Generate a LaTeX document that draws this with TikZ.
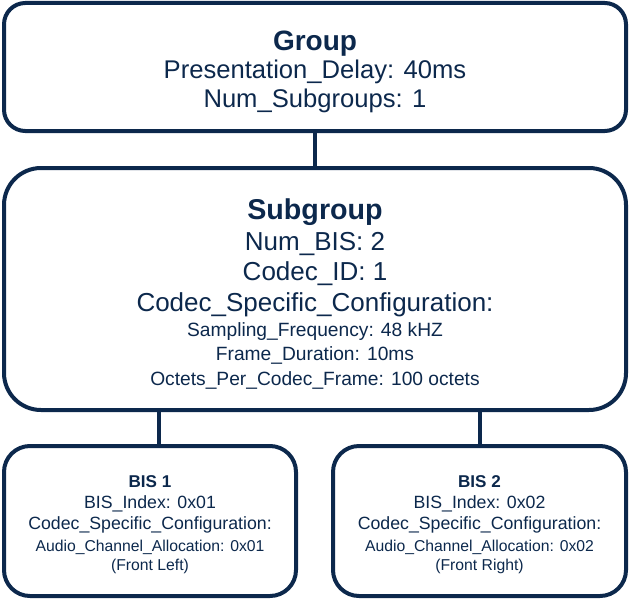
\documentclass[tikz,border=0pt]{standalone}
\usepackage{fontspec}
\setmainfont{Liberation Sans}
\usetikzlibrary{calc}
\definecolor{navy}{HTML}{0C284C}
\newcommand{\fs}[2]{\fontsize{#1}{#2}\selectfont}
\newcommand{\lift}[1]{\rule{0pt}{#1}}

\begin{document}
\begin{tikzpicture}[x=0.75pt,y=-0.75pt,
  box/.style={draw=navy,line width=3pt,text=navy,align=center,inner sep=0pt},
  link/.style={draw=navy,line width=3pt}]
\useasboundingbox (0,0) rectangle (630,599);
% group
\node[box,rounded corners=16pt,minimum width=466.5pt,minimum height=96pt,
  font=\fs{19.2}{21.75}] (group) at (315,67)
  {\lift{21.3pt}{\fs{21}{25}\bfseries Group}\\[-0.75pt]
   Presentation\_Delay: 40ms\\
   Num\_Subgroups: 1};
% subgroup
\node[box,rounded corners=27.75pt,minimum width=466.5pt,minimum height=181.5pt,
  font=\fs{19.5}{18.5}] (subgroup) at (315,289)
  {\lift{23.2pt}{\fs{21.5}{25}\bfseries Subgroup}\\[4.75pt]
   Num\_BIS: 2\\[4pt]
   Codec\_ID: 1\\[4.75pt]
   Codec\_Specific\_Configuration:\\
   {\fs{14.4}{17}Sampling\_Frequency: 48 kHZ}\\
   {\fs{14.4}{17}Frame\_Duration: 10ms}\\
   {\fs{14.4}{17}Octets\_Per\_Codec\_Frame: 100 octets}};
% bis
\node[box,rounded corners=19.5pt,minimum width=219pt,minimum height=112.5pt,
  font=\fs{13.3}{15.75}] (bis1) at (150,521)
  {\lift{14.5pt}{\fs{12.8}{15}\bfseries BIS 1}\\
   BIS\_Index: 0x01\\
   Codec\_Specific\_Configuration:\\[0.75pt]
   {\fs{11.8}{14}Audio\_Channel\_Allocation: 0x01}\\[-1.5pt]
   {\fs{11.8}{14}(Front Left)}};
\node[box,rounded corners=19.5pt,minimum width=219.75pt,minimum height=112.5pt,
  font=\fs{13.3}{15.75}] (bis2) at (479.5,521)
  {\lift{14.5pt}{\fs{12.8}{15}\bfseries BIS 2}\\
   BIS\_Index: 0x02\\
   Codec\_Specific\_Configuration:\\[0.75pt]
   {\fs{11.8}{14}Audio\_Channel\_Allocation: 0x02}\\[-1.5pt]
   {\fs{11.8}{14}(Front Right)}};
% links
\coordinate (c1) at ($(bis1.north)+(9,0)$);
\draw[link] (group.south) -- (subgroup.north);
\draw[link] (c1) -- (c1 |- subgroup.south);
\draw[link] (bis2.north) -- (bis2.north |- subgroup.south);
\end{tikzpicture}
\end{document}
